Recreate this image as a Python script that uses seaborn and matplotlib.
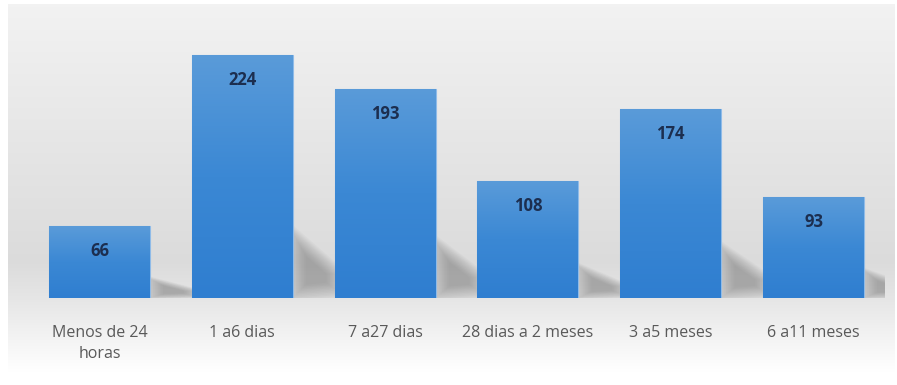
import numpy as np
import matplotlib
matplotlib.use("Agg")
import matplotlib.pyplot as plt
import seaborn as sns
from matplotlib.patches import Polygon
from matplotlib.colors import LinearSegmentedColormap

categories = ["Menos de 24\nhoras", "1 a6 dias", "7 a27 dias", "28 dias a 2 meses", "3 a5 meses", "6 a11 meses"]
values = [66, 224, 193, 108, 174, 93]

sns.set_theme(style="white")
plt.rcParams["font.family"] = ["Open Sans", "DejaVu Sans"]

W, H = 897, 385
fig = plt.figure(figsize=(W / 100, H / 100), dpi=100)
fig.patch.set_facecolor("white")

# background gradient panel
bg = fig.add_axes([8 / W, 1 - 372 / H, (894 - 8) / W, (372 - 4) / H], zorder=0)
bg.axis("off")
ys = np.linspace(0, 1, 400)
stops = np.array([[0.0, 0.950], [0.70, 0.860], [0.80, 0.900], [1.0, 1.0]])
g = np.interp(ys, stops[:, 0], stops[:, 1])
img = np.repeat(g[:, None], 2, axis=1)
bg.imshow(np.dstack([img, img, img]), aspect="auto", extent=[0, 1, 1, 0], interpolation="bilinear")
bg.set_xlim(0, 1)
bg.set_ylim(1, 0)

# main axes
px_per_unit = 243 / 224
ax_left, ax_right = 28, 885
y0_px = 298
ax_top_px = 20
ymax = (y0_px - ax_top_px) / px_per_unit
ax = fig.add_axes([ax_left / W, 1 - y0_px / H, (ax_right - ax_left) / W, (y0_px - ax_top_px) / H], zorder=1)
ax.patch.set_alpha(0)

sns.barplot(x=categories, y=values, color="#3a86d3", width=0.706, ax=ax, zorder=3,
            edgecolor="#8fbbe8", linewidth=0.8)
ax.set_xlim(-0.5, len(categories) - 0.5)
ax.set_ylim(0, ymax)

cmap = LinearSegmentedColormap.from_list("bar", ["#2f7ed0", "#3b88d4", "#5a9bd9"])
grad = np.linspace(0, 1, 256)[:, None]
for p in ax.patches:
    x0 = p.get_x()
    w = p.get_width()
    h = p.get_height()
    x1 = x0 + w
    base = np.array([(x1, 0.0), (x1, 0.27 * h), (x1 + 0.33, 0.10 * h), (x1 + 0.33, 0.02 * h)])
    c = base.mean(axis=0)
    for k in range(14):
        s = 1.35 - k * 0.07
        poly = Polygon(c + (base - c) * s, closed=True,
                       facecolor="#5a5a5a", edgecolor="none", alpha=0.035, zorder=2)
        ax.add_patch(poly)
    im = ax.imshow(grad, cmap=cmap, aspect="auto", extent=[x0, x1, 0, h], origin="lower",
                   zorder=3.5, interpolation="bilinear")
    im.set_clip_path(p)

ax.set_xlim(-0.5, len(categories) - 0.5)
ax.set_ylim(0, ymax)

for p, v in zip(ax.patches, values):
    ax.annotate(str(v), (p.get_x() + p.get_width() / 2, p.get_height()),
                xytext=(0, -25), textcoords="offset pixels", ha="center", va="center",
                fontsize=12, fontweight="bold", color="#1c2e4f", zorder=5)

ax.set_xlabel("")
ax.set_ylabel("")
ax.set_yticks([])
ax.tick_params(axis="x", length=0, pad=19.5, labelsize=11.5, labelcolor="#595959")
for lab in ax.get_xticklabels():
    lab.set_linespacing(1.4)
for s in ax.spines.values():
    s.set_visible(False)

fig.savefig("out.png", dpi=100)
